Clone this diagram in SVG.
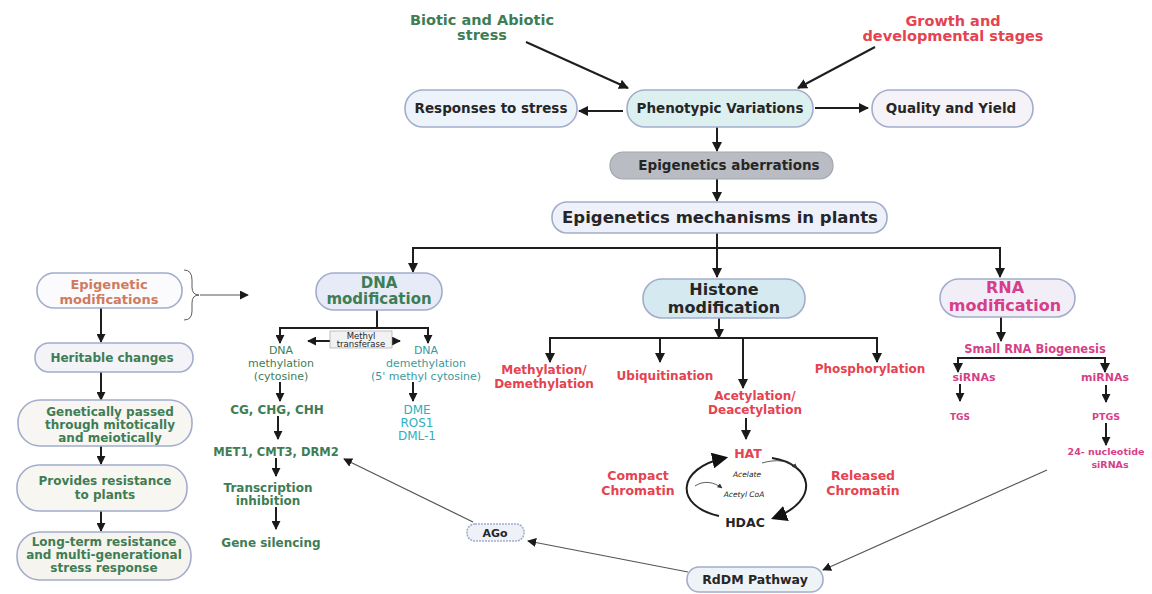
<svg xmlns="http://www.w3.org/2000/svg" width="1152" height="594" viewBox="0 0 1152 594">
<style>
text{font-family:"DejaVu Sans","Liberation Sans",sans-serif;text-anchor:middle}
.b{font-weight:bold}
.dk{fill:#262626}
.gr{fill:#3e7d55}
.rd{fill:#e5434f}
.pk{fill:#d63f88}
.tl{fill:#3c9a9d}
.cy{fill:#2cb0bd}
.sa{fill:#cf7a5e}
.box{stroke:#a3adcb;stroke-width:1.6}
.ln{fill:none;stroke:#1e1e1e;stroke-width:2}
.th{fill:none;stroke:#555;stroke-width:1.2}
.hr{fill:none;stroke:#333;stroke-width:0.8}
</style>
<defs>
<marker id="ah" viewBox="0 0 10 10" refX="9" refY="5" markerWidth="10" markerHeight="10" markerUnits="userSpaceOnUse" orient="auto-start-reverse"><path d="M0,0 L10,5 L0,10 z" fill="#1a1a1a"/></marker>
<marker id="as" viewBox="0 0 10 10" refX="9" refY="5" markerWidth="9" markerHeight="9" markerUnits="userSpaceOnUse" orient="auto-start-reverse"><path d="M0,0 L10,5 L0,10 z" fill="#1a1a1a"/></marker>
<marker id="ab" viewBox="0 0 10 10" refX="8" refY="5" markerWidth="16" markerHeight="16" markerUnits="userSpaceOnUse" orient="auto"><path d="M0,0 L10,5 L0,10 z" fill="#111"/></marker>
<marker id="at" viewBox="0 0 10 10" refX="9" refY="5" markerWidth="5" markerHeight="5" markerUnits="userSpaceOnUse" orient="auto"><path d="M0,0 L10,5 L0,10 z" fill="#333"/></marker>
</defs>
<rect width="1152" height="594" fill="#ffffff"/>

<g id="connectors">
<line class="ln" x1="526" y1="42" x2="628" y2="88" marker-end="url(#ah)"/>
<line class="ln" x1="875" y1="47" x2="798" y2="88" marker-end="url(#ah)"/>
<line class="ln" x1="623" y1="111" x2="579" y2="111" marker-end="url(#ah)"/>
<line class="ln" x1="815" y1="108" x2="868" y2="108" marker-end="url(#ah)"/>
<line class="ln" x1="717" y1="127" x2="717" y2="151" marker-end="url(#ah)"/>
<line class="ln" x1="717" y1="179" x2="717" y2="201" marker-end="url(#ah)"/>
<polyline class="ln" points="413,272 413,248 1000,248 1000,277" marker-start="url(#ah)" marker-end="url(#ah)"/>
<line class="ln" x1="717" y1="233" x2="717" y2="248"/>
<line class="ln" x1="717" y1="248" x2="717" y2="277" marker-end="url(#ah)"/>
<!-- left column -->
<path class="hr" d="M184,270 Q192,270 192,280 L192,287 Q192,295 199,295 Q192,295 192,303 L192,311 Q192,320 184,320" stroke-width="1.8"/>
<line class="th" x1="200" y1="295" x2="248" y2="295" stroke="#222" stroke-width="1.6" marker-end="url(#as)"/>
<line class="ln" x1="101" y1="308" x2="101" y2="342" stroke-width="1.6" marker-end="url(#as)"/>
<line class="ln" x1="101" y1="372" x2="101" y2="400" stroke-width="1.6" marker-end="url(#as)"/>
<line class="ln" x1="101" y1="446" x2="101" y2="464" stroke-width="1.6" marker-end="url(#as)"/>
<line class="ln" x1="101" y1="511" x2="101" y2="531" stroke-width="1.6" marker-end="url(#as)"/>
<!-- DNA subtree -->
<line class="ln" x1="377" y1="310" x2="377" y2="328" stroke-width="1.8"/>
<polyline class="ln" points="280,343 280,328 428,328 428,343" stroke-width="1.8" marker-start="url(#as)" marker-end="url(#as)"/>
<line class="ln" x1="308" y1="341" x2="400" y2="341" stroke-width="1.4" marker-start="url(#as)" marker-end="url(#as)"/>
<line class="ln" x1="280" y1="382" x2="280" y2="401" stroke-width="1.6" marker-end="url(#as)"/>
<line class="ln" x1="413" y1="382" x2="413" y2="401" stroke-width="1.6" marker-end="url(#as)"/>
<line class="ln" x1="278" y1="416" x2="278" y2="439" stroke-width="1.6" marker-end="url(#as)"/>
<line class="ln" x1="276" y1="458" x2="276" y2="476" stroke-width="1.6" marker-end="url(#as)"/>
<line class="ln" x1="276" y1="507" x2="276" y2="529" stroke-width="1.6" marker-end="url(#as)"/>
<!-- RdDM / AGo -->
<line class="th" x1="473" y1="522" x2="344" y2="459" marker-end="url(#as)"/>
<line class="th" x1="688" y1="572" x2="528" y2="541" marker-end="url(#as)"/>
<line class="th" x1="1047" y1="470" x2="823" y2="570" marker-end="url(#as)"/>
<!-- Histone subtree -->
<line class="ln" x1="719" y1="318" x2="719" y2="338" marker-end="url(#ah)"/>
<polyline class="ln" points="550,362 550,338 877,338 877,362" marker-start="url(#ah)" marker-end="url(#ah)"/>
<line class="ln" x1="660" y1="338" x2="660" y2="362" marker-end="url(#ah)"/>
<line class="ln" x1="743" y1="338" x2="743" y2="388" marker-end="url(#ah)"/>
<line class="ln" x1="746" y1="418" x2="746" y2="439" marker-end="url(#ah)"/>
<path class="ln" d="M772,458 C812,464 822,500 774,518" stroke-width="2.6" marker-end="url(#ab)"/>
<path class="ln" d="M719,516 C674,506 676,468 725,458" stroke-width="2.6" marker-end="url(#ab)"/>
<path class="hr" d="M762,463 C776,459 788,460 797,468" marker-end="url(#at)"/>
<path class="hr" d="M695,486 C704,480 714,482 722,488" marker-end="url(#at)"/>
<!-- RNA subtree -->
<line class="ln" x1="1001" y1="317" x2="1001" y2="341" marker-end="url(#ah)"/>
<polyline class="ln" points="958,372 958,358 1105,358 1105,372" marker-start="url(#ah)" marker-end="url(#ah)"/>
<line class="ln" x1="960" y1="384" x2="960" y2="401" stroke-width="1.6" marker-end="url(#as)"/>
<line class="ln" x1="1106" y1="385" x2="1106" y2="402" stroke-width="1.6" marker-end="url(#as)"/>
<line class="ln" x1="1106" y1="423" x2="1106" y2="445" stroke-width="1.6" marker-end="url(#as)"/>
</g>

<g id="biotic"><text class="b gr" x="482" y="25" font-size="14.5">Biotic and Abiotic</text><text class="b gr" x="482" y="40" font-size="14.5">stress</text></g>
<g id="growth"><text class="b rd" x="953" y="26" font-size="14.5">Growth and</text><text class="b rd" x="953" y="41" font-size="14.5">developmental stages</text></g>
<g id="responses"><rect class="box" x="405" y="90" width="172" height="37" rx="18" fill="#edf3fb"/><text class="b dk" x="491" y="113" font-size="13.5">Responses to stress</text></g>
<g id="phenotypic"><rect class="box" x="627" y="90" width="186" height="37" rx="18" fill="#dcf0f0"/><text class="b dk" x="720" y="113" font-size="13.5">Phenotypic Variations</text></g>
<g id="quality"><rect class="box" x="872" y="90" width="161" height="37" rx="18" fill="#f5f2f8"/><text class="b dk" x="951" y="113" font-size="13.5">Quality and Yield</text></g>
<g id="aberrations"><rect x="610" y="152" width="223" height="27" rx="13" fill="#b9bcc3" stroke="#a2a6ae" stroke-width="1.2"/><text class="b dk" x="729" y="170" font-size="13.5">Epigenetics aberrations</text></g>
<g id="mechanisms"><rect class="box" x="552" y="202" width="335" height="31" rx="15" fill="#eef1fa"/><text class="b dk" x="720" y="223" font-size="16.5">Epigenetics mechanisms in plants</text></g>

<g id="epimod"><rect class="box" x="37" y="273" width="145" height="35" rx="17" fill="#fbfbfd"/><text class="b sa" x="109" y="289" font-size="13">Epigenetic</text><text class="b sa" x="109" y="304" font-size="13">modifications</text></g>
<g id="heritable"><rect class="box" x="35" y="343" width="158" height="29" rx="14" fill="#f3f3f8"/><text class="b gr" x="112" y="362" font-size="12">Heritable changes</text></g>
<g id="genetically"><rect class="box" x="18" y="400" width="174" height="46" rx="22" fill="#f8f6f3"/><text class="b gr" x="110" y="416" font-size="12">Genetically passed</text><text class="b gr" x="110" y="429" font-size="12">through mitotically</text><text class="b gr" x="110" y="442" font-size="12">and meiotically</text></g>
<g id="provides"><rect class="box" x="17" y="465" width="170" height="46" rx="22" fill="#f8f6f1"/><text class="b gr" x="105" y="485" font-size="12">Provides resistance</text><text class="b gr" x="105" y="499" font-size="12">to plants</text></g>
<g id="longterm"><rect class="box" x="17" y="532" width="174" height="48" rx="23" fill="#f6f4ee"/><text class="b gr" x="104" y="546" font-size="12">Long-term resistance</text><text class="b gr" x="104" y="559" font-size="12">and multi-generational</text><text class="b gr" x="104" y="572" font-size="12">stress response</text></g>

<g id="dnamod"><rect class="box" x="316" y="273" width="126" height="37" rx="18" fill="#e6ebf7"/><text class="b gr" x="379" y="288" font-size="15">DNA</text><text class="b gr" x="379" y="304" font-size="15">modification</text></g>
<g id="methyltransferase"><rect x="330" y="331" width="62" height="17" fill="#f2f2f2" stroke="#999" stroke-width="0.6"/><text class="dk" x="361" y="339" font-size="8.5">Methyl</text><text class="dk" x="361" y="347" font-size="8.5">transferase</text></g>
<g id="dnamethylation"><text class="gr" x="281" y="354" font-size="11">DNA</text><text class="gr" x="281" y="367" font-size="11">methylation</text><text class="gr" x="281" y="380" font-size="11">(cytosine)</text></g>
<g id="dnademethylation"><text class="tl" x="426" y="354" font-size="11">DNA</text><text class="tl" x="426" y="367" font-size="11">demethylation</text><text class="tl" x="426" y="380" font-size="11">(5' methyl cytosine)</text></g>
<g id="cg"><text class="b gr" x="277" y="414" font-size="12">CG, CHG, CHH</text></g>
<g id="dme"><text class="cy" x="417" y="414" font-size="12">DME</text><text class="cy" x="417" y="427" font-size="12">ROS1</text><text class="cy" x="417" y="440" font-size="12">DML-1</text></g>
<g id="met1"><text class="b gr" x="276" y="456" font-size="11.5">MET1, CMT3, DRM2</text></g>
<g id="transcription"><text class="b gr" x="268" y="492" font-size="12">Transcription</text><text class="b gr" x="268" y="505" font-size="12">inhibition</text></g>
<g id="genesilencing"><text class="b gr" x="271" y="547" font-size="12">Gene silencing</text></g>
<g id="ago"><rect class="box" x="467" y="524" width="57" height="17" rx="8" fill="#eef2f8" stroke-dasharray="2 1"/><text class="b dk" x="495" y="537" font-size="11">AGo</text></g>
<g id="rddm"><rect class="box" x="687" y="567" width="136" height="25" rx="12" fill="#eef3f8"/><text class="b dk" x="755" y="584" font-size="12.5">RdDM Pathway</text></g>

<g id="histone"><rect class="box" x="643" y="279" width="162" height="39" rx="19" fill="#d4e9f0"/><text class="b dk" x="724" y="295" font-size="16">Histone</text><text class="b dk" x="724" y="313" font-size="16">modification</text></g>
<g id="methylation"><text class="b rd" x="544" y="374" font-size="12">Methylation/</text><text class="b rd" x="544" y="388" font-size="12">Demethylation</text></g>
<g id="ubiquitination"><text class="b rd" x="665" y="380" font-size="12">Ubiquitination</text></g>
<g id="acetylation"><text class="b rd" x="755" y="400" font-size="12">Acetylation/</text><text class="b rd" x="755" y="414" font-size="12">Deacetylation</text></g>
<g id="phosphorylation"><text class="b rd" x="870" y="373" font-size="12">Phosphorylation</text></g>
<g id="hat"><text class="b rd" x="748" y="458" font-size="12.5">HAT</text></g>
<g id="hdac"><text class="b dk" x="745" y="527" font-size="12.5">HDAC</text></g>
<g id="acelate"><text class="dk" x="747" y="477" font-size="7.5" font-style="italic">Acelate</text></g>
<g id="acetylcoa"><text class="dk" x="744" y="497" font-size="7.5" font-style="italic">Acetyl CoA</text></g>
<g id="compact"><text class="b rd" x="638" y="480" font-size="12.5">Compact</text><text class="b rd" x="638" y="495" font-size="12.5">Chromatin</text></g>
<g id="released"><text class="b rd" x="863" y="480" font-size="12.5">Released</text><text class="b rd" x="863" y="495" font-size="12.5">Chromatin</text></g>

<g id="rnamod"><rect class="box" x="940" y="279" width="135" height="38" rx="19" fill="#f1eef8"/><text class="b pk" x="1005" y="293" font-size="16">RNA</text><text class="b pk" x="1005" y="311" font-size="16">modification</text></g>
<g id="smallrna"><text class="b pk" x="1035" y="353" font-size="11.5">Small RNA Biogenesis</text></g>
<g id="sirnas"><text class="b pk" x="974" y="381" font-size="11">siRNAs</text></g>
<g id="mirnas"><text class="b pk" x="1105" y="381" font-size="11">miRNAs</text></g>
<g id="tgs"><text class="b pk" x="960" y="420" font-size="9">TGS</text></g>
<g id="ptgs"><text class="b pk" x="1106" y="420" font-size="9.5">PTGS</text></g>
<g id="nucleotide"><text class="b pk" x="1106" y="455" font-size="9.5">24- nucleotide</text><text class="b pk" x="1110" y="468" font-size="9.5">siRNAs</text></g>
</svg>
